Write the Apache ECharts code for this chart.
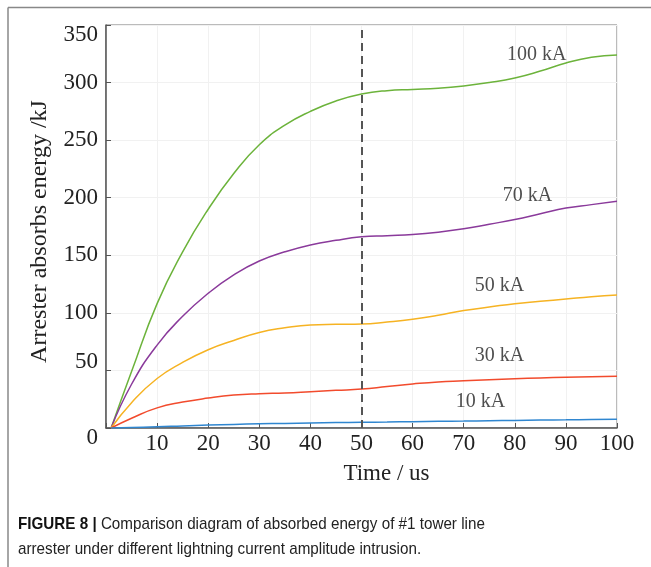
<!doctype html>
<html lang="en">
<head>
    <meta charset="utf-8"/>
    <title>Absorbed energy of #1 tower line arrester</title>
    <script src="https://cdn.jsdelivr.net/npm/echarts@6/dist/echarts.min.js"></script>
    <style>
        html, body { margin: 0; padding: 0; background: #fff; }
        #chart { width: 651px; height: 567px; }
    </style>
</head>
<body>
<div id="chart"></div>
<script>
    // time axis (us) shared by every curve
    const timeUs = [1, 5, 10, 15, 20, 25, 30, 35, 40, 45, 50, 55, 60, 65, 70, 75, 80, 85, 90, 95, 100];

    // absorbed energy (kJ)
    const energy100kA = [0, 49, 108, 153, 190, 221, 246, 263, 275, 284, 290, 293, 294, 295, 297, 300, 304, 310, 317, 322, 324];
    const energy70kA = [0, 38, 72, 97, 117, 133, 145, 153, 159, 163, 166, 167, 168, 170, 173, 177, 181, 186, 191, 194, 197];
    const energy50kA = [0, 22, 43, 57, 68, 76, 83, 87, 89.5, 90, 90.3, 92, 94.4, 98, 102, 105, 108, 110, 112, 114, 115.5];
    const energy30kA = [0, 8.5, 17.5, 22.5, 26, 28.6, 29.8, 30.4, 31.5, 32.7, 33.8, 36, 38.2, 40, 41, 42, 42.8, 43.5, 44, 44.5, 45];
    const energy10kA = [0, 0.5, 1, 1.8, 2.5, 3.1, 3.6, 4, 4.4, 4.7, 5, 5.2, 5.5, 5.8, 6, 6.3, 6.6, 6.9, 7.1, 7.4, 7.6];

    // in-plot curve labels (data coords)
    const labelText = ["100 kA", "70 kA", "50 kA", "30 kA", "10 kA"];
    const labelT = [84.3, 82.5, 77, 77, 73.3];
    const labelE = [324, 201.5, 123.6, 62.5, 22.8];

    const markerTime = 50;

    const curves = [
        { name: "100 kA", data: energy100kA, color: "#6cb33b" },
        { name: "70 kA", data: energy70kA, color: "#8a3a9b" },
        { name: "50 kA", data: energy50kA, color: "#f6b323" },
        { name: "30 kA", data: energy30kA, color: "#f24b2d" },
        { name: "10 kA", data: energy10kA, color: "#2f86d0" }
    ];

    const serif = "'Liberation Serif', 'DejaVu Serif', serif";
    const sans = "'Liberation Sans', Arial, sans-serif";

    const chart = echarts.init(document.getElementById("chart"));

    const series = curves.map(function (c) {
        return {
            name: c.name,
            type: "line",
            smooth: 0.5,
            symbol: "none",
            lineStyle: { color: c.color, width: 1.5 },
            data: timeUs.map(function (t, i) { return [t, c.data[i]]; }),
            z: 3
        };
    });

    // dashed marker at t = 50 us
    series[0].markLine = {
        silent: true,
        symbol: "none",
        label: { show: false },
        lineStyle: { color: "#555", width: 2, type: [8, 5] },
        data: [{ xAxis: markerTime }]
    };

    series.push({
        name: "labels",
        type: "scatter",
        symbolSize: 0,
        data: labelT.map(function (t, i) { return { value: [t, labelE[i]], name: labelText[i] }; }),
        label: {
            show: true,
            position: "inside",
            formatter: function (p) { return p.name; },
            color: "#222",
            fontFamily: serif,
            fontSize: 20
        },
        z: 5
    });

    const option = {
        backgroundColor: "#fff",
        animation: false,
        grid: {
            left: 106,
            right: 34,
            top: 25,
            bottom: 139,
            show: true,
            borderColor: "#777",
            borderWidth: 1
        },
        xAxis: {
            type: "value",
            min: 0,
            max: 100,
            interval: 10,
            name: "Time / us",
            nameLocation: "middle",
            nameGap: 34,
            nameTextStyle: { fontFamily: serif, fontSize: 23, color: "#222", padding: [0, 0, 0, 50] },
            axisLine: { lineStyle: { color: "#555", width: 1.5 } },
            axisTick: { inside: true, length: 5, lineStyle: { color: "#555" } },
            axisLabel: {
                margin: 4,
                color: "#222",
                fontFamily: serif,
                fontSize: 23,
                formatter: function (v) { return v === 0 ? "" : String(v); }
            },
            splitLine: { show: true, lineStyle: { color: "#f1f1f1", width: 1 } }
        },
        yAxis: {
            type: "value",
            min: 0,
            max: 350,
            interval: 50,
            name: "Arrester absorbs energy /kJ",
            nameLocation: "middle",
            nameGap: 54,
            nameTextStyle: { fontFamily: serif, fontSize: 24, color: "#222", padding: [0, 10, 0, 0] },
            axisLine: { show: true, lineStyle: { color: "#555", width: 1.5 } },
            axisTick: { show: true, inside: true, length: 5, lineStyle: { color: "#555" } },
            axisLabel: {
                margin: 8,
                color: "#222",
                fontFamily: serif,
                fontSize: 23,
                formatter: function (v) {
                    if (v === 0 || v === 350) return "{low|" + v + "}";
                    if (v === 50) return "{up|" + v + "}";
                    return String(v);
                },
                rich: {
                    low: { fontFamily: serif, fontSize: 23, color: "#222", padding: [20, 0, 0, 0] },
                    up: { fontFamily: serif, fontSize: 23, color: "#222", padding: [0, 0, 16, 0] }
                }
            },
            splitLine: { show: true, lineStyle: { color: "#f1f1f1", width: 1 } }
        },
        graphic: [
            {
                type: "line",
                shape: { x1: 8, y1: 7.5, x2: 651, y2: 7.5 },
                style: { stroke: "#888", lineWidth: 1.5 }
            },
            {
                type: "line",
                shape: { x1: 8, y1: 7.5, x2: 8, y2: 567 },
                style: { stroke: "#888", lineWidth: 1.5 }
            },
            {
                type: "text",
                x: 18,
                y: 512,
                scaleX: 0.895,
                style: {
                    text: "{b|FIGURE 8 |} Comparison diagram of absorbed energy of #1 tower line\narrester under different lightning current amplitude intrusion.",
                    font: "17px " + sans,
                    fill: "#222",
                    lineHeight: 25,
                    rich: {
                        b: {
                            fontWeight: "bold",
                            fontSize: 17,
                            fontFamily: sans,
                            fill: "#111"
                        }
                    }
                }
            }
        ],
        series: series
    };

    chart.setOption(option);

    window.onresize = function () {
        chart.resize();
    };
</script>
</body>
</html>
